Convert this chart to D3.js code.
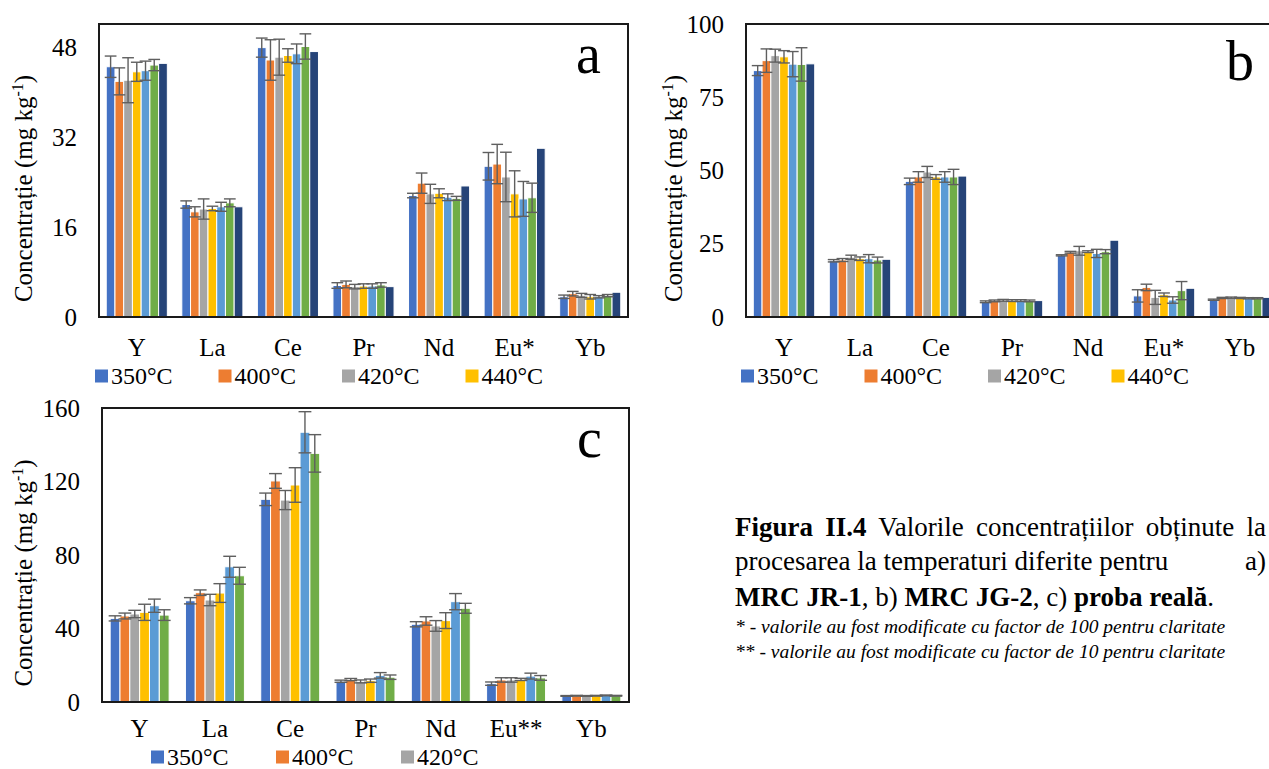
<!DOCTYPE html>
<html>
<head>
<meta charset="utf-8">
<script src="https://cdn.jsdelivr.net/npm/d3@7"></script>
<style>
  body { margin: 0; background: #fff; }
  svg text { font-family: "Liberation Serif", serif; }
</style>
</head>
<body>
<svg id="chart" width="1269" height="769"></svg>
<script>
// categories and legend labels
const catsAB = ["Y", "La", "Ce", "Pr", "Nd", "Eu*", "Yb"];
const catsC = ["Y", "La", "Ce", "Pr", "Nd", "Eu**", "Yb"];
const legendAB = ["350°C", "400°C", "420°C", "440°C"];
const legendC = ["350°C", "400°C", "420°C"];
const colors = ["#4472C4", "#ED7D31", "#A5A5A5", "#FFC000", "#5B9BD5", "#70AD47", "#264478"];
const FONT = "Liberation Serif";

// panel a, one row per temperature series
const aMeans = [
  [44.5, 20.0, 47.9, 5.6, 21.6, 26.8, 3.6],
  [41.9, 18.7, 45.7, 5.8, 23.8, 27.2, 4.15],
  [42.1, 19.2, 46.2, 5.4, 21.9, 24.9, 3.85],
  [43.6, 19.3, 46.5, 5.5, 22.0, 21.9, 3.6],
  [43.8, 19.6, 46.8, 5.5, 21.3, 21.0, 3.6],
  [44.8, 20.3, 48.1, 5.7, 21.1, 21.2, 3.8],
  [45.1, 19.6, 47.2, 5.4, 23.3, 30.0, 4.4]
];
const aErrors = [
  [1.9, 0.65, 1.7, 0.5, 0.4, 2.45, 0.3],
  [2.4, 0.9, 3.6, 0.6, 1.8, 3.5, 0.4],
  [4.0, 1.8, 3.2, 0.4, 1.7, 4.4, 0.35],
  [1.7, 0.4, 1.2, 0.4, 0.8, 4.1, 0.4],
  [1.7, 0.8, 1.75, 0.4, 0.6, 3.1, 0.2],
  [1.0, 0.7, 2.25, 0.4, 0.35, 2.6, 0.2]
];

// panel b
const bMeans = [
  [84.1, 19.2, 46.3, 5.2, 21.05, 7.2, 5.9],
  [87.5, 19.45, 47.8, 5.5, 22.1, 10.1, 6.5],
  [89.2, 20.4, 49.5, 5.7, 22.6, 6.7, 6.6],
  [88.8, 19.9, 47.8, 5.6, 22.3, 7.6, 6.5],
  [86.3, 19.9, 47.8, 5.6, 21.7, 5.8, 6.4],
  [86.2, 19.45, 47.8, 5.5, 22.3, 9.0, 6.4],
  [86.4, 19.7, 48.1, 5.6, 26.2, 9.8, 6.7]
];
const bErrors = [
  [1.7, 0.4, 1.1, 0.3, 0.2, 2.1, 0.2],
  [4.0, 0.5, 1.8, 0.3, 0.3, 1.1, 0.2],
  [2.2, 0.7, 1.9, 0.3, 1.5, 2.4, 0.2],
  [2.1, 0.6, 0.8, 0.3, 0.3, 0.6, 0.2],
  [4.3, 1.4, 1.8, 0.3, 1.4, 1.1, 0.2],
  [5.7, 1.0, 2.6, 0.3, 0.7, 3.1, 0.2]
];

// panel c (real sample)
const cMeans = [
  [45.5, 55.1, 110.3, 11.3, 42.3, 10.0, 3.3],
  [46.8, 59.5, 120.3, 12.2, 44.1, 12.0, 3.4],
  [47.9, 55.5, 109.9, 11.2, 41.4, 12.0, 3.3],
  [48.8, 59.3, 118.1, 11.6, 44.3, 12.3, 3.4],
  [52.4, 73.6, 146.8, 14.5, 54.6, 14.1, 3.6],
  [47.3, 68.7, 135.3, 13.5, 51.0, 13.1, 3.4]
];
const cErrors = [
  [1.4, 1.7, 3.4, 0.6, 1.4, 0.9, 0.2],
  [1.6, 1.5, 4.0, 0.6, 2.3, 1.2, 0.2],
  [2.0, 3.1, 5.2, 0.8, 2.9, 1.2, 0.2],
  [4.4, 5.1, 9.4, 0.9, 4.3, 0.6, 0.2],
  [3.6, 5.7, 11.2, 1.5, 4.4, 1.6, 0.2],
  [2.9, 4.6, 10.2, 1.2, 2.7, 1.3, 0.2]
];

const ticksA = [0, 16, 32, 48];
const ticksB = [0, 25, 50, 75, 100];
const ticksC = [0, 40, 80, 120, 160];

const svg = d3.select("#chart").style("font-family", FONT);

function drawPanel(p) {
  const g = svg.append("g").attr("font-family", FONT);
  const x0 = d3.scaleBand().domain(p.cats).range([p.left, p.right]);
  const x1 = d3.scaleBand()
    .domain(d3.range(p.means.length))
    .range([0, x0.bandwidth()])
    .paddingInner(0)
    .paddingOuter(0.83);
  const y = d3.scaleLinear().domain([0, p.yMax]).range([p.bottom, p.top]);

  // y axis labels only
  const yAxis = g.append("g")
    .attr("transform", `translate(${p.left},0)`)
    .call(d3.axisLeft(y).tickValues(p.ticks).tickSize(0).tickPadding(22));
  yAxis.attr("font-family", FONT).attr("font-size", 25);
  yAxis.select(".domain").remove();
  yAxis.selectAll("text").attr("fill", "#000");

  const xAxis = g.append("g")
    .attr("transform", `translate(0,${p.bottom})`)
    .call(d3.axisBottom(x0).tickSize(0).tickPadding(p.catPad));
  xAxis.attr("font-family", FONT).attr("font-size", 25);
  xAxis.select(".domain").remove();
  xAxis.selectAll("text").attr("fill", "#000");

  // bars
  p.means.forEach((row, s) => {
    g.append("g")
      .selectAll("rect")
      .data(row)
      .enter()
      .append("rect")
      .attr("x", (d, i) => x0(p.cats[i]) + x1(s))
      .attr("y", d => y(d))
      .attr("width", x1.bandwidth())
      .attr("height", d => p.bottom - y(d))
      .attr("fill", colors[s])
      .attr("stroke", "#fff")
      .attr("stroke-width", 1);
  });

  // error bars
  p.errors.forEach((row, s) => {
    const eg = g.append("g").attr("stroke", "#5f5f5f").attr("stroke-width", 1.4);
    row.forEach((e, i) => {
      const cx = x0(p.cats[i]) + x1(s) + x1.bandwidth() / 2;
      const v = p.means[s][i];
      const hw = x1.bandwidth() / 2 + 1.5;
      eg.append("line").attr("x1", cx).attr("x2", cx).attr("y1", y(v + e)).attr("y2", y(v - e));
      eg.append("line").attr("x1", cx - hw).attr("x2", cx + hw).attr("y1", y(v + e)).attr("y2", y(v + e));
      eg.append("line").attr("x1", cx - hw).attr("x2", cx + hw).attr("y1", y(v - e)).attr("y2", y(v - e));
    });
  });

  // plot area frame
  g.append("rect")
    .attr("x", p.left)
    .attr("y", p.top)
    .attr("width", p.right - p.left)
    .attr("height", p.bottom - p.top)
    .attr("fill", "none")
    .attr("stroke", "#1a1a1a")
    .attr("stroke-width", 2);

  // panel letter
  g.append("text")
    .attr("x", p.letterX)
    .attr("y", p.letterY)
    .attr("font-size", 56)
    .text(p.letter);

  // y title
  const title = g.append("text")
    .attr("transform", `translate(${p.titleX},${(p.top + p.bottom) / 2 + 18}) rotate(-90)`)
    .attr("text-anchor", "middle")
    .attr("font-size", 25);
  title.append("tspan").text("Concentrație (mg kg");
  title.append("tspan").attr("dy", -9).attr("font-size", 16).text("-1");
  title.append("tspan").attr("dy", 9).text(")");

  // legend (only the visible first row)
  const lg = g.append("g");
  p.legend.forEach((name, i) => {
    const lx = p.legendX + i * p.legendStep;
    lg.append("rect")
      .attr("x", lx)
      .attr("y", p.legendY - 6.5)
      .attr("width", 13)
      .attr("height", 13)
      .attr("fill", colors[i]);
    lg.append("text")
      .attr("x", lx + 16)
      .attr("y", p.legendY + 8)
      .attr("font-size", 24)
      .text(name);
  });
}

drawPanel({
  cats: catsAB, means: aMeans, errors: aErrors, yMax: 52.1, ticks: ticksA,
  left: 99, right: 628, top: 24, bottom: 317, catPad: 21,
  letter: "a", letterX: 576, letterY: 73, titleX: 32,
  legend: legendAB, legendX: 95, legendStep: 123.5, legendY: 376
});

drawPanel({
  cats: catsAB, means: bMeans, errors: bErrors, yMax: 100, ticks: ticksB,
  left: 746, right: 1278, top: 24, bottom: 317, catPad: 21,
  letter: "b", letterX: 1226, letterY: 80, titleX: 682,
  legend: legendAB, legendX: 741, legendStep: 123.5, legendY: 376
});

drawPanel({
  cats: catsC, means: cMeans, errors: cErrors, yMax: 160, ticks: ticksC,
  left: 102, right: 629, top: 408, bottom: 702, catPad: 17,
  letter: "c", letterX: 577, letterY: 457, titleX: 32,
  legend: legendC, legendX: 151, legendStep: 125, legendY: 757
});

// caption
const cap = svg.append("g").attr("font-family", FONT).attr("font-size", 27);
const line1 = cap.append("text").attr("x", 735).attr("y", 536);
line1.append("tspan").attr("font-weight", "bold").text("Figura II.4");
line1.append("tspan").text(" Valorile concentrațiilor obținute la");
// justify first line to the right edge
const natural = line1.node().getComputedTextLength();
line1.attr("word-spacing", Math.max(0, (1266 - 735 - natural) / 5));

cap.append("text").attr("x", 735).attr("y", 570).text("procesarea la temperaturi diferite pentru");
cap.append("text").attr("x", 1266).attr("y", 570).attr("text-anchor", "end").text("a)");

const line3 = cap.append("text").attr("x", 735).attr("y", 606);
line3.append("tspan").attr("font-weight", "bold").text("MRC JR-1");
line3.append("tspan").text(", b) ");
line3.append("tspan").attr("font-weight", "bold").text("MRC JG-2");
line3.append("tspan").text(", c) ");
line3.append("tspan").attr("font-weight", "bold").text("proba reală");
line3.append("tspan").text(".");

cap.append("text").attr("x", 735).attr("y", 633)
  .attr("font-size", 19.5).attr("font-style", "italic")
  .text("* - valorile au fost modificate cu factor de 100 pentru claritate");
cap.append("text").attr("x", 735).attr("y", 658)
  .attr("font-size", 19.5).attr("font-style", "italic")
  .text("** - valorile au fost modificate cu factor de 10 pentru claritate");
</script>
</body>
</html>
